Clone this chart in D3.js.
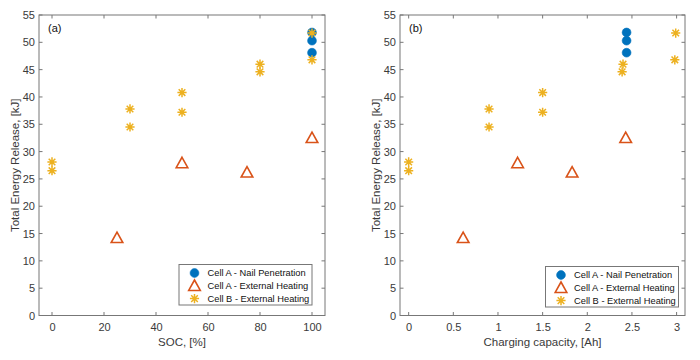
<!DOCTYPE html>
<html><head><meta charset="utf-8">
<script src="https://cdn.jsdelivr.net/npm/d3@7"></script>
<style>body{margin:0;background:#fff}svg{display:block;font-family:"Liberation Sans",Arial,sans-serif}</style>
</head><body><svg id="c" width="700" height="360"></svg>
<script>
// ---- data ----
const yTicks = [0,5,10,15,20,25,30,35,40,45,50,55];
const socTicks = [0,20,40,60,80,100];
const capTicks = [0,0.5,1,1.5,2,2.5,3];
const seriesNames = ["Cell A - Nail Penetration","Cell A - External Heating","Cell B - External Heating"];
// Cell A - nail penetration
const nailSOC = [100,100,100];
const nailCap = [2.44,2.44,2.44];
const nailE   = [51.8,50.3,48.1];
// Cell A - external heating
const heatASOC = [25,50,75,100];
const heatACap = [0.61,1.22,1.83,2.43];
const heatAE   = [14.2,27.9,26.2,32.5];
// Cell B - external heating
const heatBSOC = [0,0,30,30,50,50,80,80,100,100];
const heatBCap = [0,0,0.9,0.9,1.5,1.5,2.4,2.39,2.99,2.98];
const heatBE   = [28.1,26.5,37.8,34.5,40.8,37.2,46.0,44.6,51.7,46.8];

const colors = ["#0072BD","#D95319","#EDB120"];
const axisCol = "#777", textCol = "#3a3a3a";
const svg = d3.select("#c");

function marker(g, type, x, y){
  if(type===0){
    g.append("circle").attr("cx",x).attr("cy",y).attr("r",4.4).attr("fill",colors[0]).attr("stroke",colors[0]).attr("stroke-width",0.6);
  } else if(type===1){
    const s=5.8;
    g.append("path").attr("d",`M${x},${y-s} L${x+s},${y+s*0.8} L${x-s},${y+s*0.8} Z`)
      .attr("fill","none").attr("stroke",colors[1]).attr("stroke-width",1.6).attr("stroke-linejoin","miter");
  } else {
    const r=4.6, d=r*0.72;
    g.append("path").attr("d",`M${x-r},${y}H${x+r}M${x},${y-r}V${y+r}M${x-d},${y-d}L${x+d},${y+d}M${x-d},${y+d}L${x+d},${y-d}`)
      .attr("stroke",colors[2]).attr("stroke-width",1.5).attr("fill","none");
  }
}

function panel(o){
  const g = svg.append("g");
  const x = d3.scaleLinear().domain(o.xdom).range([o.left,o.right]);
  const y = d3.scaleLinear().domain([0,55]).range([o.bottom,o.top]);
  const tl=3.5;
  g.append("rect").attr("x",o.left).attr("y",o.top).attr("width",o.right-o.left).attr("height",o.bottom-o.top)
    .attr("fill","none").attr("stroke",axisCol).attr("stroke-width",1);
  const xa = d3.axisBottom(x).tickValues(o.xticks).tickSize(0).tickPadding(8).tickFormat(d=>d3.format("")(d));
  const ya = d3.axisLeft(y).tickValues(yTicks).tickSize(0).tickPadding(4);
  const gx = g.append("g").attr("transform",`translate(0,${o.bottom})`).call(xa);
  const gy = g.append("g").attr("transform",`translate(${o.left},0)`).call(ya);
  [gx,gy].forEach(a=>{a.select(".domain").remove();a.selectAll("text").attr("fill",textCol).attr("font-size","11px").attr("font-family","Liberation Sans, Arial");});
  o.xticks.forEach(t=>{
    g.append("line").attr("x1",x(t)).attr("x2",x(t)).attr("y1",o.bottom).attr("y2",o.bottom-tl).attr("stroke",axisCol);
    g.append("line").attr("x1",x(t)).attr("x2",x(t)).attr("y1",o.top).attr("y2",o.top+tl).attr("stroke",axisCol);
  });
  yTicks.forEach(t=>{
    g.append("line").attr("x1",o.left).attr("x2",o.left+tl).attr("y1",y(t)).attr("y2",y(t)).attr("stroke",axisCol);
    g.append("line").attr("x1",o.right).attr("x2",o.right-tl).attr("y1",y(t)).attr("y2",y(t)).attr("stroke",axisCol);
  });
  g.append("text").attr("x",(o.left+o.right)/2).attr("y",346).attr("text-anchor","middle")
    .attr("font-size","11.5px").attr("fill",textCol).text(o.xlabel);
  g.append("text").attr("transform",`translate(${o.left-20},${(o.top+o.bottom)/2}) rotate(-90)`).attr("text-anchor","middle")
    .attr("font-size","11.5px").attr("fill",textCol).text("Total Energy Release, [kJ]");
  g.append("text").attr("x",o.left+9).attr("y",31.5).attr("font-size","11px").attr("fill","#111").text(o.tag);
  const pts = g.append("g");
  o.xs[0].forEach((v,i)=>marker(pts,0,x(v),y(nailE[i])));
  o.xs[1].forEach((v,i)=>marker(pts,1,x(v),y(heatAE[i])));
  o.xs[2].forEach((v,i)=>marker(pts,2,x(v),y(heatBE[i])));
  const lg = g.append("g");
  lg.append("rect").attr("x",o.leg[0]).attr("y",o.leg[1]).attr("width",133).attr("height",40.5)
    .attr("fill","#fff").attr("stroke",axisCol).attr("stroke-width",1);
  seriesNames.forEach((n,i)=>{
    const yy = o.leg[1]+8.5+i*12.8;
    marker(lg,i,o.leg[0]+15.5,yy);
    lg.append("text").attr("x",o.leg[0]+28.5).attr("y",yy+3.3).attr("font-size","9.3px").attr("fill","#111").text(n);
  });
}

panel({left:39,right:325,top:15,bottom:315.5,xdom:[-5,105],xticks:socTicks,xlabel:"SOC, [%]",tag:"(a)",
  xs:[nailSOC,heatASOC,heatBSOC],leg:[179,264.5]});
panel({left:400,right:685,top:15,bottom:315.5,xdom:[-0.097,3.094],xticks:capTicks,xlabel:"Charging capacity, [Ah]",tag:"(b)",
  xs:[nailCap,heatACap,heatBCap],leg:[545.5,266.5]});
</script></body></html>
